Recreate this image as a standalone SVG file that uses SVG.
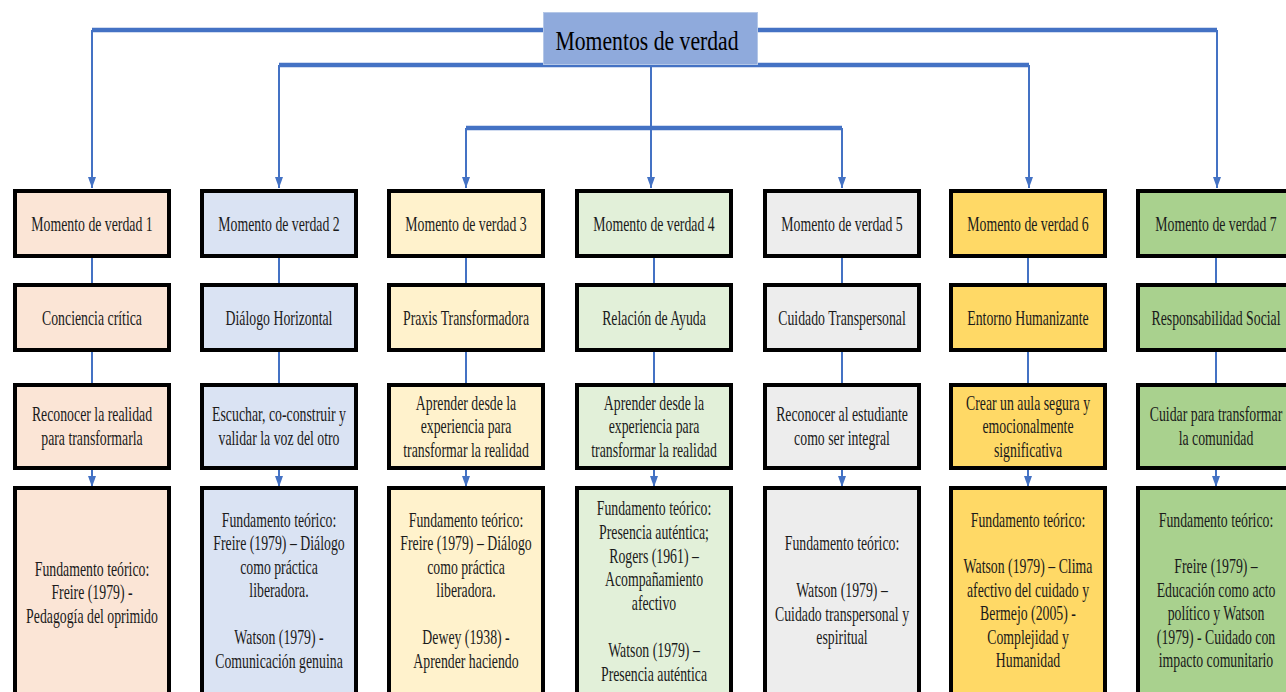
<svg xmlns="http://www.w3.org/2000/svg" width="1286" height="692" viewBox="0 0 1286 692">
<style>
.bus{stroke:#4472C4;stroke-width:4.5;fill:none}
.ln{stroke:#4472C4;stroke-width:2;fill:none}
.arr{stroke:#4472C4;stroke-width:2;fill:none;marker-end:url(#ah)}
.box{stroke:#000;stroke-width:4}
.t{font-family:"Liberation Serif","Times New Roman",serif;font-size:20px;fill:#1a1a1a;text-anchor:middle}
.c1{fill:#FBE5D6}.c2{fill:#DAE3F3}.c3{fill:#FFF2CC}.c4{fill:#E2F0D9}.c5{fill:#EDEDED}.c6{fill:#FFD966}.c7{fill:#A9D18E}
</style>
<defs>
<marker id="ah" viewBox="0 0 11 8" refX="11" refY="4" markerWidth="11" markerHeight="8" markerUnits="userSpaceOnUse" orient="auto">
<path d="M0,0 L11,4 L0,8 z" fill="#4472C4"/>
</marker>
</defs>
<rect width="1286" height="692" fill="#fff"/>
<g id="connectors">
<path class="bus" d="M92,30 H1217"/>
<path class="bus" d="M279,65 H1029"/>
<path class="bus" d="M466,128 H842"/>
<path class="arr" d="M92,30 V188"/>
<path class="arr" d="M1217,30 V188"/>
<path class="arr" d="M279,65 V188"/>
<path class="arr" d="M1029,65 V188"/>
<path class="arr" d="M466,128 V188"/>
<path class="arr" d="M842,128 V188"/>
<path class="arr" d="M651,64 V188"/>
<path class="ln" d="M92,258 V283 M92,352 V383"/>
<path class="arr" d="M92,470 V487"/>
<path class="ln" d="M279,258 V283 M279,352 V383"/>
<path class="arr" d="M279,470 V487"/>
<path class="ln" d="M466,258 V283 M466,352 V383"/>
<path class="arr" d="M466,470 V487"/>
<path class="ln" d="M654,258 V283 M654,352 V383"/>
<path class="arr" d="M654,470 V487"/>
<path class="ln" d="M842,258 V283 M842,352 V383"/>
<path class="arr" d="M842,470 V487"/>
<path class="ln" d="M1028,258 V283 M1028,352 V383"/>
<path class="arr" d="M1028,470 V487"/>
<path class="ln" d="M1216,258 V283 M1216,352 V383"/>
<path class="arr" d="M1216,470 V487"/>
</g>
<g id="title">
<rect x="543.5" y="12.5" width="214" height="52" fill="#8FAADC" stroke="#B4C7E7" stroke-width="1"/>
<g transform="translate(647 0) scale(0.775 1)"><text class="t" x="0" y="50" style="font-size:28px;fill:#000">Momentos de verdad</text></g>
</g>
<g id="col1">
<rect class="box c1" x="15" y="191" width="154" height="65"/>
<rect class="box c1" x="15" y="285" width="154" height="65"/>
<rect class="box c1" x="15" y="385" width="154" height="83"/>
<rect class="box c1" x="15" y="488" width="154" height="230"/>
<g transform="translate(92 0) scale(0.69 1)">
<text class="t" x="0" y="231">Momento de verdad 1</text>
<text class="t" x="0" y="325">Conciencia crítica</text>
<text class="t" x="0" y="421">Reconocer la realidad</text>
<text class="t" x="0" y="445">para transformarla</text>
<text class="t" x="0" y="576">Fundamento teórico:</text>
<text class="t" x="0" y="599.5">Freire (1979) -</text>
<text class="t" x="0" y="623">Pedagogía del oprimido</text>
</g>
</g>
<g id="col2">
<rect class="box c2" x="202" y="191" width="154" height="65"/>
<rect class="box c2" x="202" y="285" width="154" height="65"/>
<rect class="box c2" x="202" y="385" width="154" height="83"/>
<rect class="box c2" x="202" y="488" width="154" height="230"/>
<g transform="translate(279 0) scale(0.69 1)">
<text class="t" x="0" y="231">Momento de verdad 2</text>
<text class="t" x="0" y="325">Diálogo Horizontal</text>
<text class="t" x="0" y="421">Escuchar, co-construir y</text>
<text class="t" x="0" y="445">validar la voz del otro</text>
<text class="t" x="0" y="527">Fundamento teórico:</text>
<text class="t" x="0" y="550.5">Freire (1979) – Diálogo</text>
<text class="t" x="0" y="574">como práctica</text>
<text class="t" x="0" y="597.5">liberadora.</text>
<text class="t" x="0" y="644.5">Watson (1979) -</text>
<text class="t" x="0" y="668">Comunicación genuina</text>
</g>
</g>
<g id="col3">
<rect class="box c3" x="389" y="191" width="154" height="65"/>
<rect class="box c3" x="389" y="285" width="154" height="65"/>
<rect class="box c3" x="389" y="385" width="154" height="83"/>
<rect class="box c3" x="389" y="488" width="154" height="230"/>
<g transform="translate(466 0) scale(0.69 1)">
<text class="t" x="0" y="231">Momento de verdad 3</text>
<text class="t" x="0" y="325">Praxis Transformadora</text>
<text class="t" x="0" y="410">Aprender desde la</text>
<text class="t" x="0" y="433.5">experiencia para</text>
<text class="t" x="0" y="457">transformar la realidad</text>
<text class="t" x="0" y="527">Fundamento teórico:</text>
<text class="t" x="0" y="550.5">Freire (1979) – Diálogo</text>
<text class="t" x="0" y="574">como práctica</text>
<text class="t" x="0" y="597.5">liberadora.</text>
<text class="t" x="0" y="644.5">Dewey (1938) -</text>
<text class="t" x="0" y="668">Aprender haciendo</text>
</g>
</g>
<g id="col4">
<rect class="box c4" x="577" y="191" width="154" height="65"/>
<rect class="box c4" x="577" y="285" width="154" height="65"/>
<rect class="box c4" x="577" y="385" width="154" height="83"/>
<rect class="box c4" x="577" y="488" width="154" height="230"/>
<g transform="translate(654 0) scale(0.69 1)">
<text class="t" x="0" y="231">Momento de verdad 4</text>
<text class="t" x="0" y="325">Relación de Ayuda</text>
<text class="t" x="0" y="410">Aprender desde la</text>
<text class="t" x="0" y="433.5">experiencia para</text>
<text class="t" x="0" y="457">transformar la realidad</text>
<text class="t" x="0" y="515.5">Fundamento teórico:</text>
<text class="t" x="0" y="539.1">Presencia auténtica;</text>
<text class="t" x="0" y="562.7">Rogers (1961) –</text>
<text class="t" x="0" y="586.3">Acompañamiento</text>
<text class="t" x="0" y="609.9">afectivo</text>
<text class="t" x="0" y="657.1">Watson (1979) –</text>
<text class="t" x="0" y="680.7">Presencia auténtica</text>
</g>
</g>
<g id="col5">
<rect class="box c5" x="765" y="191" width="154" height="65"/>
<rect class="box c5" x="765" y="285" width="154" height="65"/>
<rect class="box c5" x="765" y="385" width="154" height="83"/>
<rect class="box c5" x="765" y="488" width="154" height="230"/>
<g transform="translate(842 0) scale(0.69 1)">
<text class="t" x="0" y="231">Momento de verdad 5</text>
<text class="t" x="0" y="325">Cuidado Transpersonal</text>
<text class="t" x="0" y="421">Reconocer al estudiante</text>
<text class="t" x="0" y="445">como ser integral</text>
<text class="t" x="0" y="550">Fundamento teórico:</text>
<text class="t" x="0" y="597.2">Watson (1979) –</text>
<text class="t" x="0" y="620.8">Cuidado transpersonal y</text>
<text class="t" x="0" y="644.4">espiritual</text>
</g>
</g>
<g id="col6">
<rect class="box c6" x="951" y="191" width="154" height="65"/>
<rect class="box c6" x="951" y="285" width="154" height="65"/>
<rect class="box c6" x="951" y="385" width="154" height="83"/>
<rect class="box c6" x="951" y="488" width="154" height="230"/>
<g transform="translate(1028 0) scale(0.69 1)">
<text class="t" x="0" y="231">Momento de verdad 6</text>
<text class="t" x="0" y="325">Entorno Humanizante</text>
<text class="t" x="0" y="410">Crear un aula segura y</text>
<text class="t" x="0" y="433.5">emocionalmente</text>
<text class="t" x="0" y="457">significativa</text>
<text class="t" x="0" y="527">Fundamento teórico:</text>
<text class="t" x="0" y="573.5">Watson (1979) – Clima</text>
<text class="t" x="0" y="597">afectivo del cuidado y</text>
<text class="t" x="0" y="620.5">Bermejo (2005) -</text>
<text class="t" x="0" y="644">Complejidad y</text>
<text class="t" x="0" y="667.5">Humanidad</text>
</g>
</g>
<g id="col7">
<rect class="box c7" x="1138" y="191" width="154" height="65"/>
<rect class="box c7" x="1138" y="285" width="154" height="65"/>
<rect class="box c7" x="1138" y="385" width="154" height="83"/>
<rect class="box c7" x="1138" y="488" width="154" height="230"/>
<g transform="translate(1216 0) scale(0.69 1)">
<text class="t" x="0" y="231">Momento de verdad 7</text>
<text class="t" x="0" y="325">Responsabilidad Social</text>
<text class="t" x="0" y="421">Cuidar para transformar</text>
<text class="t" x="0" y="445">la comunidad</text>
<text class="t" x="0" y="527">Fundamento teórico:</text>
<text class="t" x="0" y="573.5">Freire (1979) –</text>
<text class="t" x="0" y="597">Educación como acto</text>
<text class="t" x="0" y="620.5">político y Watson</text>
<text class="t" x="0" y="644">(1979) - Cuidado con</text>
<text class="t" x="0" y="667.5">impacto comunitario</text>
</g>
</g>
</svg>
